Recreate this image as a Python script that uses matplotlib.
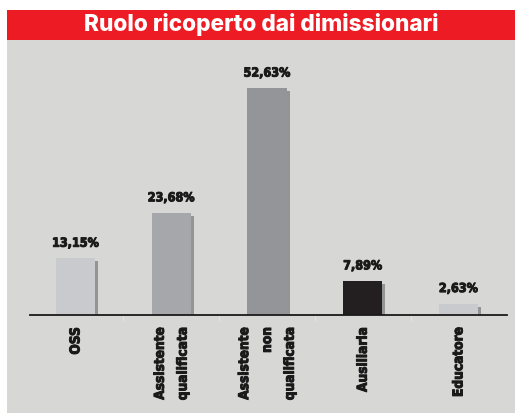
import matplotlib
matplotlib.use("Agg")
import matplotlib.pyplot as plt
import matplotlib.patheffects as pe
from matplotlib.patches import Rectangle

categories = ["OSS", "Assistente\nqualificata", "Assistente\nnon\nqualificata", "Ausiliaria", "Educatore"]
values = [13.15, 23.68, 52.63, 7.89, 2.63]
value_labels = ["13,15%", "23,68%", "52,63%", "7,89%", "2,63%"]
bar_colors = ["#c9cacd", "#a6a7aa", "#949598", "#231f20", "#c9cacd"]
shadow_color = "#939496"
title = "Ruolo ricoperto dai dimissionari"

W, H = 515, 413
fig = plt.figure(figsize=(W / 100, H / 100), dpi=100)
fig.patch.set_facecolor("white")

# panel background and red header
fig.patches.append(Rectangle((7 / W, 0), 1 - 7 / W, (H - 40) / H, transform=fig.transFigure,
                             facecolor="#d7d7d6", edgecolor="none", zorder=-10))
fig.patches.append(Rectangle((7 / W, (H - 40) / H), 1 - 7 / W, 30 / H, transform=fig.transFigure,
                             facecolor="#ed1c24", edgecolor="none", zorder=-10))
fig.text((7 + W) / 2 / W, (H - 25) / H, title, color="white", fontsize=16.3, fontweight=800,
         family=["Inter", "DejaVu Sans"], ha="center", va="center")

ymax = 60
px_per_unit = 4.31
ax_h = ymax * px_per_unit
ax = fig.add_axes([30 / W, (H - 315) / H, 477 / W, ax_h / H])
ax.set_facecolor("none")
ax.set_xlim(-0.475, 4.507)
ax.set_ylim(0, ymax)

x = list(range(len(values)))
width = 0.41
dx = 3 / 95.75
dy = 3 / px_per_unit
ax.bar([i + dx for i in x], [v - dy for v in values], width=width, color=shadow_color, zorder=1)
ax.bar(x, values, width=width, color=bar_colors, zorder=2)

thick = [pe.withStroke(linewidth=0.7, foreground="#1a1a1a")]
for i, v in enumerate(values):
    ax.text(i, v + 3.5, value_labels[i], ha="center", va="center", fontsize=9,
            fontweight="bold", family="DejaVu Sans", fontstretch="condensed", color="#1a1a1a",
            path_effects=thick)

for s in ["top", "right", "left"]:
    ax.spines[s].set_visible(False)
ax.spines["bottom"].set_linewidth(1.3)
ax.spines["bottom"].set_color("#1a1a1a")
ax.set_yticks([])
ax.set_xticks([0.5, 1.5, 2.5, 3.5])
ax.set_xticklabels([])
ax.tick_params(axis="x", length=4, color="#e4e4e4", width=0.8)

for i, c in enumerate(categories):
    ax.text(i, -12 / px_per_unit, c, rotation=90, ha="center", va="top", multialignment="right",
            fontsize=9.8, fontweight="bold", family="DejaVu Sans", fontstretch="condensed",
            linespacing=1.8, color="#1a1a1a", path_effects=thick)

fig.savefig("out.png", dpi=100)
